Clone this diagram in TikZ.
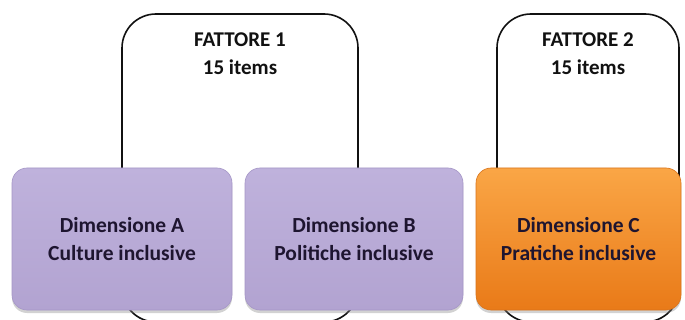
\documentclass[tikz,border=0pt]{standalone}
\usepackage{fontspec}
\setmainfont{Carlito}
\usetikzlibrary{shadows}
\definecolor{frameink}{HTML}{111111}
\definecolor{boxink}{HTML}{1E1530}
\definecolor{lilactop}{HTML}{BFB2DC}
\definecolor{lilacbot}{HTML}{B2A3D1}
\definecolor{lilacedge}{HTML}{A596C6}
\definecolor{orangetop}{HTML}{FAA646}
\definecolor{orangebot}{HTML}{E97A18}
\definecolor{orangeedge}{HTML}{D8741C}
\tikzset{
  framebox/.style={draw=frameink, line width=1.6pt, rounded corners=34pt, fill=none},
  framelabel/.style={text=frameink, font=\fontsize{21}{28}\selectfont\bfseries, align=center},
  dimbox/.style={rounded corners=15pt, minimum height=142pt, inner sep=0pt,
    text=boxink, font=\fontsize{21.5}{28}\selectfont\bfseries, align=center,
    drop shadow={opacity=0.35, shadow xshift=0pt, shadow yshift=-3pt}},
  lilac/.style={dimbox, top color=lilactop, bottom color=lilacbot, draw=lilacedge, line width=0.6pt},
  orangebox/.style={dimbox, top color=orangetop, bottom color=orangebot, draw=orangeedge, line width=0.6pt}
}
\begin{document}
\begin{tikzpicture}[x=1pt,y=-1pt]
\useasboundingbox[fill=white] (0,0) rectangle (685,320);
\clip (0,0) rectangle (685,320);
% factor frames
\node[framebox, minimum width=236pt, minimum height=308pt, inner sep=0pt] (f1) at (240,168) {};
\node[framebox, minimum width=182pt, minimum height=308pt, inner sep=0pt] (f2) at (588,168) {};
\node[framelabel] (f1t) at (240,54) {FATTORE 1\\15 items};
\node[framelabel] (f2t) at (588,54) {FATTORE 2\\15 items};
% dimension boxes
\node[lilac, minimum width=220pt] (da) at (122,239) {Dimensione A\\Culture inclusive};
\node[lilac, minimum width=218pt] (db) at (354,239) {Dimensione B\\Politiche inclusive};
\node[orangebox, minimum width=205pt] (dc) at (578.5,239) {Dimensione C\\Pratiche inclusive};
\end{tikzpicture}
\end{document}
